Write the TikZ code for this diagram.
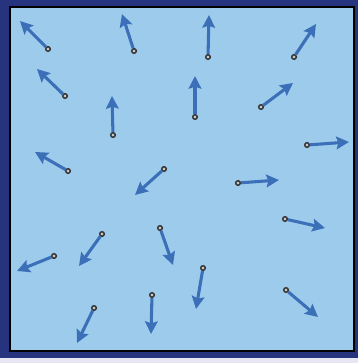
\documentclass[tikz,border=0pt]{standalone}
\usetikzlibrary{arrows.meta}
\definecolor{navy}{HTML}{26337E}
\definecolor{pale}{HTML}{E6E7F3}
\definecolor{sky}{HTML}{9DCBEC}
\definecolor{arrblue}{HTML}{3B6FB7}
\tikzset{
  dot/.style={circle, draw=black!80, line width=1.1pt, fill=gray!45, minimum size=3.4pt, inner sep=0pt},
  arr/.style={draw=arrblue, line width=2.3pt, -{Stealth[length=9.5pt, width=9.5pt, inset=1.5pt]}}
}
\begin{document}
\begin{tikzpicture}[x=0.75pt,y=-0.75pt]
\useasboundingbox (0,0) rectangle (358,363);
\fill[pale] (0,0) rectangle (358,363);
\fill[navy] (0,0) rectangle (358,358);
\draw[black, line width=1.5pt, fill=sky] (10,7) rectangle (354,351);
% dots
\foreach \n/\x/\y in {1/48/49, 2/65/96, 3/134/51, 4/208/57, 5/195/117, 6/294/57, 7/261/107, 8/113/135, 9/68/171, 10/164/169, 11/238/183, 12/307/145, 13/285/219, 14/102/234, 15/160/228, 16/54/256, 17/94/308, 18/203/268, 19/152/295, 20/286/290}
  {\node[dot] (d\n) at (\x,\y) {};}
% tips
\foreach \n/\x/\y in {1/20/21, 2/37/69, 3/122/14, 4/209/15, 5/195/76, 6/316/24, 7/293/83, 8/112/96, 9/35/152, 10/135/195, 11/279/180, 12/349/142, 13/325/228, 14/79/266, 15/173/265, 16/17/271, 17/77/343, 18/196/309, 19/151/334, 20/318/317}
  {\coordinate (t\n) at (\x,\y);}
\foreach \n in {1,...,20}
  {\draw[arr] (d\n) -- (t\n);}
\end{tikzpicture}
\end{document}
